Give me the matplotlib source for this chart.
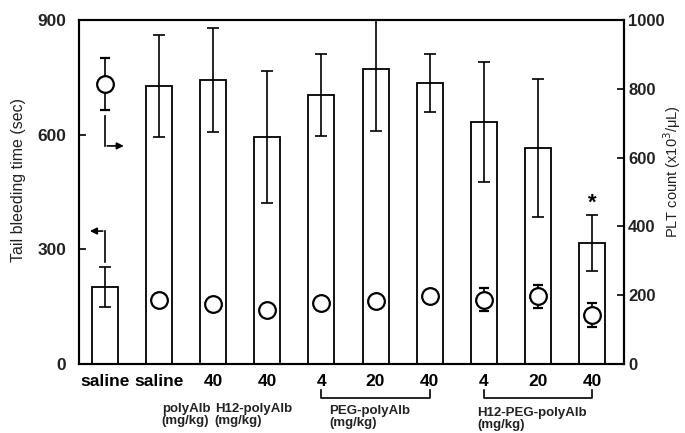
import matplotlib
matplotlib.use('Agg')
import matplotlib.pyplot as plt

"""
Tail bleeding time (bars, left axis) and PLT count (circles, right axis)
for saline and the polyAlb preparations.
"""

plt.rcParams['font.family'] = ['Liberation Sans', 'DejaVu Sans']

# tick labels under each bar
labels = ['saline', 'saline', '40', '40', '4', '20', '40', '4', '20', '40']

# tail bleeding time (sec), mean and SD
bleed = [202, 727, 743, 594, 703, 771, 734, 632, 565, 316]
bleed_err = [52, 133, 135, 172, 107, 162, 76, 157, 180, 73]

# PLT count (x10^3/uL), mean and SD
plt_count = [813, 187, 175, 158, 177, 184, 197, 187, 197, 143]
plt_err = [75, 18, 16, 18, 12, 12, 18, 34, 34, 34]

# group captions: (text, left bar index, axes y)
groups = [('polyAlb\n(mg/kg)', 1.05, -0.113),
          ('H12-polyAlb\n(mg/kg)', 2.03, -0.113),
          ('PEG-polyAlb\n(mg/kg)', 4.15, -0.119),
          ('H12-PEG-polyAlb\n(mg/kg)', 6.88, -0.125)]
brackets = [(4, 6), (7, 9)]

x = list(range(len(labels)))

fig = plt.figure(figsize=(6.85, 4.33), dpi=100)
ax = fig.add_axes([0.1153, 0.159, 0.7956, 0.795])
ax2 = ax.twinx()

ax.bar(x, bleed, width=0.48, color='white', edgecolor='black', linewidth=1.3, zorder=2)
ax.errorbar(x, bleed, yerr=bleed_err, fmt='none', ecolor='black', elinewidth=1.2,
            capsize=4.5, capthick=1.2, zorder=3)

ax2.errorbar(x, plt_count, yerr=plt_err, fmt='o', ms=12, mfc='white', mec='black',
             mew=1.6, ecolor='black', elinewidth=1.2, capsize=3.5, capthick=1.2, zorder=4)

ax.set_xlim(-0.48, 9.59)
ax.set_ylim(0, 900)
ax2.set_ylim(0, 1000)
ax.set_yticks([0, 300, 600, 900])
ax2.set_yticks([0, 200, 400, 600, 800, 1000])
ax.set_xticks(x)
ax.set_xticklabels(labels, fontsize=12.5, fontweight='bold')
ax.tick_params(axis='x', length=0, pad=7)
ax.tick_params(axis='y', direction='in', length=5, width=1.2, labelsize=12.5, pad=9)
ax2.tick_params(axis='y', direction='in', length=5, width=1.2, labelsize=12, pad=3)
for t in ax.get_yticklabels() + ax2.get_yticklabels():
    t.set_fontweight('bold')
    t.set_color('#222222')

for a in (ax, ax2):
    for s in a.spines.values():
        s.set_linewidth(1.5)
ax.spines['left'].set_color('#1d3a34')

ax.set_ylabel('Tail bleeding time (sec)', fontsize=11.5, color='#222222')
ax.yaxis.set_label_coords(-0.098, 0.535)
ax2.set_ylabel(r'PLT count (x10$^3$/μL)', fontsize=10.5, color='#222222')
ax2.yaxis.set_label_coords(1.068, 0.56)

# significance mark
ax.text(9, 420, '*', ha='center', va='center', fontsize=16, fontweight='bold')

# arrows telling which axis goes with which mark
ax2.plot([0, 0], [722, 634], color='black', lw=1.2)
ax2.annotate('', xy=(0.4, 634), xytext=(-0.01, 634),
             arrowprops=dict(arrowstyle='-|>', color='black', lw=1.2, mutation_scale=10))
ax.plot([0, 0], [268, 348], color='black', lw=1.2)
ax.annotate('', xy=(-0.33, 348), xytext=(0.01, 348),
            arrowprops=dict(arrowstyle='-|>', color='black', lw=1.2, mutation_scale=10))

# group captions and brackets under the axis
trans = ax.get_xaxis_transform()
for text, gx, gy in groups:
    ax.text(gx, gy, text, transform=trans, ha='left', va='top', fontsize=9.5,
            fontweight='bold', linespacing=1.0, color='#222222')
for a, b in brackets:
    ax.plot([a, a, b, b], [-0.075, -0.099, -0.099, -0.075], transform=trans,
            color='black', lw=1.2, clip_on=False)

fig.savefig('out.png', dpi=100)
